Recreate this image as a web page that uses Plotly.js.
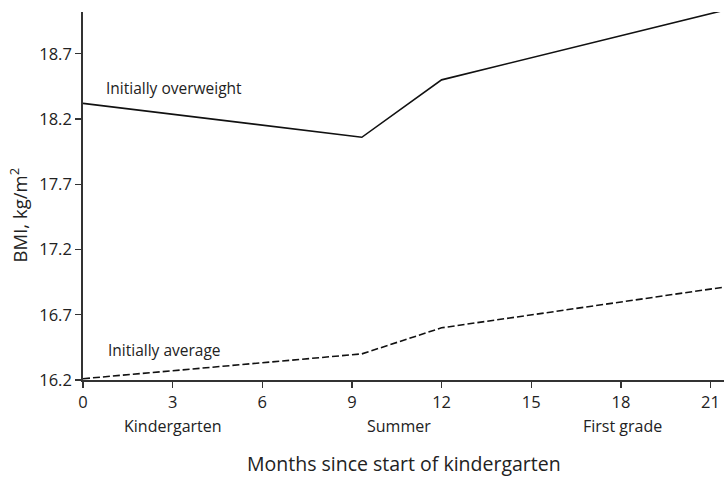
<!DOCTYPE html>
<html>
<head>
<meta charset="utf-8">
<script src="https://cdn.plot.ly/plotly-3.0.1.min.js"></script>
<style>html,body{margin:0;padding:0;background:#fff;}#chart{width:724px;height:477px;}</style>
</head>
<body>
<div id="chart"></div>
<script>
// Data
const monthsOverweight = [0, 9.33, 12, 21.4];
const bmiOverweight = [18.32, 18.06, 18.50, 19.03];
const monthsAverage = [0, 9.33, 12, 21.4];
const bmiAverage = [16.21, 16.40, 16.60, 16.91];
const xTicks = [0, 3, 6, 9, 12, 15, 18, 21];
const yTicks = [16.2, 16.7, 17.2, 17.7, 18.2, 18.7];
const periodLabels = ['Kindergarten', 'Summer', 'First grade'];
const periodPositions = [3, 10.57, 18.05];
const seriesLabels = ['Initially overweight', 'Initially average'];

const FONT = 'Open Sans, sans-serif';
const TXT = '#222';

const traces = [
  {x: monthsOverweight, y: bmiOverweight, mode: 'lines', name: seriesLabels[0],
   line: {color: '#111', width: 1.6}, cliponaxis: false, showlegend: false},
  {x: monthsAverage, y: bmiAverage, mode: 'lines', name: seriesLabels[1],
   line: {color: '#111', width: 1.6, dash: '7px,3px'}, cliponaxis: false, showlegend: false}
];

const annotations = [
  {x: 0.70, y: 18.44, xref: 'x', yref: 'y', text: seriesLabels[0], showarrow: false,
   xanchor: 'left', yanchor: 'middle', font: {family: FONT, size: 15.5, color: TXT}},
  {x: 0.76, y: 16.43, xref: 'x', yref: 'y', text: seriesLabels[1], showarrow: false,
   xanchor: 'left', yanchor: 'middle', font: {family: FONT, size: 15.5, color: TXT}},
  {x: -0.101, xref: 'paper', y: 0.448, yref: 'paper', text: 'BMI, kg/m<sup>2</sup>', textangle: -90,
   showarrow: false, xanchor: 'center', yanchor: 'middle', font: {family: FONT, size: 18.5, color: TXT}},
  {x: 0.5, xref: 'paper', y: -0.226, yref: 'paper', text: 'Months since start of kindergarten',
   showarrow: false, xanchor: 'center', yanchor: 'middle', font: {family: FONT, size: 19.5, color: TXT}}
];
periodLabels.forEach((t, i) => {
  annotations.push({x: periodPositions[i], xref: 'x', y: -0.125, yref: 'paper', text: t,
    showarrow: false, xanchor: 'center', yanchor: 'middle', font: {family: FONT, size: 16, color: TXT}});
});

const layout = {
  width: 724, height: 477,
  margin: {l: 83, r: 0, t: 12, b: 97, pad: 0},
  paper_bgcolor: '#fff', plot_bgcolor: '#fff',
  showlegend: false,
  xaxis: {range: [0, 21.45], tickvals: xTicks, ticktext: xTicks.map(String),
    showgrid: false, zeroline: false, showline: true, linecolor: '#333', linewidth: 1.8,
    ticks: 'outside', ticklen: 6, tickwidth: 1.3, tickcolor: '#333',
    tickfont: {family: FONT, size: 16.5, color: TXT}, automargin: false},
  yaxis: {range: [16.2, 19.02], tickvals: yTicks, ticktext: yTicks.map(v => v.toFixed(1)),
    showgrid: false, zeroline: false, showline: true, linecolor: '#333', linewidth: 1.8,
    ticks: 'outside', ticklen: 6, tickwidth: 1.3, tickcolor: '#333',
    tickfont: {family: FONT, size: 16.5, color: TXT}, automargin: false},
  annotations: annotations
};

Plotly.newPlot('chart', traces, layout, {staticPlot: true, displayModeBar: false});
</script>
</body>
</html>
